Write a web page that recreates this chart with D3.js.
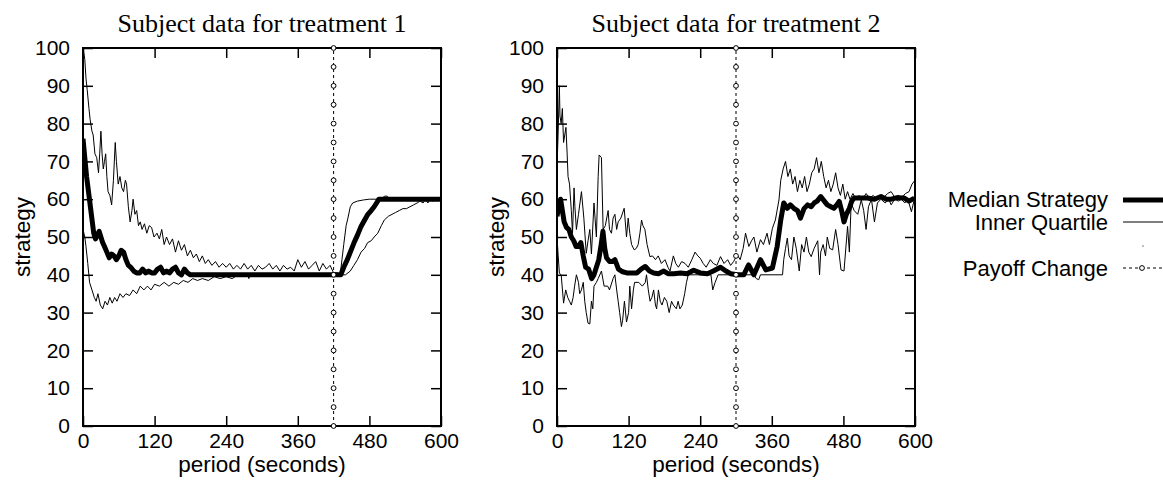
<!DOCTYPE html>
<meta charset="utf-8" />
<script src="https://d3js.org/d3.v7.min.js"></script>
<style>
  body { margin: 0; background: #fff; }
  text { font-family: "Liberation Sans", Arial, sans-serif; fill: #000; }
  .title { font-family: "Liberation Serif", "Times New Roman", serif; font-size: 26px; }
  .tick text { font-size: 21px; }
  .label { font-size: 22.5px; }
  .legend-text { font-size: 22px; }
</style>
<body>
<svg id="chart" width="1163" height="488"></svg>
<script>
// ---- data ----
const xTicks = [0, 120, 240, 360, 480, 600];
const yTicks = [0, 10, 20, 30, 40, 50, 60, 70, 80, 90, 100];
const payoffMarks = [0, 5, 10, 15, 20, 25, 30, 35, 40, 45, 50, 55, 60, 65, 70, 75, 80, 85, 90, 95, 100];
const titles = ["Subject data for treatment 1", "Subject data for treatment 2"];
const payoffTimes = [420, 300];

// treatment 1: [period, strategy]
const t1Median = [[0,76],[3,71],[6,66],[10,61],[14,56],[18,51],[21,49.5],[24,50.5],[27,51.5],[30,50],[33,48.5],[36,47.5],[40,46],[44,44.5],[48,45.5],[52,45],[56,44],[60,45],[64,46.5],[68,46],[72,44],[76,42.5],[80,42],[85,41],[90,40.5],[95,40.5],[100,41.5],[105,40.5],[110,41],[115,40.5],[120,40.5],[125,41.5],[130,42],[135,40.5],[140,41],[145,40.5],[150,41.5],[155,42],[160,40.5],[165,40],[170,41.5],[175,40.5],[180,40],[432,40],[437,42],[443,44],[448,46],[454,48.4],[460,50.5],[466,52.8],[472,54.5],[477,55.9],[483,57],[488,58],[492,59],[496,60],[600,60]];

const t1Upper = [[0,100],[3,97],[5,92],[7,89],[10,84],[12,81],[15,78],[17,77],[20,72],[23,71],[26,67],[28,72],[30,78],[32,72],[34,68],[36,70],[38,72],[40,66],[42,62],[45,61],[48,58.5],[51,65],[54,75],[56,70],[59,64],[62,66],[65,63],[68,62],[71,65],[73,64],[76,58],[79,54],[82,57],[84,60],[87,56],[90,57],[93,53],[96,54],[99,52],[103,53.5],[107,51],[111,53],[115,52.5],[119,50],[124,51],[128,49.5],[132,52],[136,48],[140,50],[145,48],[150,49.5],[155,46],[160,49],[165,46.5],[170,48],[175,45],[180,46.5],[185,44.5],[190,45.5],[195,43.5],[200,45],[205,43],[210,44],[216,42.5],[222,43.5],[228,42],[234,43],[240,42],[246,43],[252,41.5],[258,42.5],[264,41.5],[270,43],[276,41.5],[282,42.5],[288,41],[294,42.5],[300,41.5],[306,42],[312,43],[318,41.5],[324,42.5],[330,41],[336,42.5],[342,41.5],[348,42],[354,41],[360,44],[366,42],[372,43.5],[378,41.5],[384,42.5],[390,43.5],[396,41],[402,43],[408,41.5],[414,42.5],[420,40.5],[426,40.5],[431,40],[434,44],[437,48],[441,53],[444,55],[448,58],[452,59],[460,59.5],[470,59.8],[480,60],[500,60],[505,60.8],[510,60.8],[515,60],[600,60]];

const t1Lower = [[0,52],[3,50],[5,47.5],[8,43],[11,38],[15,36],[19,34],[22,33],[25,35],[29,32],[33,31],[37,33],[41,32],[45,34],[49,32.5],[53,34],[57,33],[62,35],[67,34],[72,35],[78,34.5],[84,36],[90,35],[96,37],[102,36],[108,37],[114,36],[120,37.5],[128,37],[136,38],[144,37],[152,38],[160,37.5],[168,38.5],[176,38],[184,39],[192,38.5],[200,39],[210,38.5],[220,39.5],[230,39],[240,39.5],[250,39],[260,40],[270,39.5],[276,40],[278,39],[280,40],[440,40],[448,41],[454,42.5],[460,44],[466,46],[472,47],[477,48.5],[483,49],[488,50],[494,51],[500,53],[505,54.5],[512,55.5],[518,56],[524,56.5],[530,57],[536,57.5],[542,57.5],[548,58],[554,58.5],[560,59],[565,59.5],[570,59],[574,60],[578,59],[582,60],[586,59.5],[590,60],[600,60]];

// treatment 2
const t2Median = [[0,55.5],[3,58],[6,60],[9,57],[12,54],[16,52.5],[20,52],[24,50],[28,49],[32,47.5],[36,47.5],[40,48.5],[44,45],[48,42],[53,41.5],[58,39],[62,40],[66,42],[70,44],[74,48],[77,51.5],[80,47],[83,44.5],[88,43.5],[93,43.5],[97,44],[103,41.5],[110,40.8],[117,40.5],[125,40.5],[134,40.5],[141,41.5],[148,42.2],[155,41],[162,40.5],[170,40.3],[179,41],[186,40.3],[196,40.3],[207,40.5],[218,40.3],[229,41.2],[240,40.5],[252,40.3],[262,41],[274,42],[283,41],[291,40.3],[302,40],[313,40],[321,42.6],[330,40],[341,44],[350,41.3],[361,41.8],[369,47.5],[375,54.5],[380,59],[386,57.6],[391,58.5],[397,57.6],[403,57],[408,55],[414,57.5],[420,58.5],[426,58],[431,59],[436,59.5],[442,60.7],[448,59.5],[453,58.5],[459,58],[464,57.6],[469,58.5],[473,59.4],[477,57],[481,54],[485,56],[490,57.6],[494,59.5],[498,60.3],[510,60.3],[520,60.3],[532,60],[543,60.7],[552,60],[560,60],[570,60.4],[582,60.3],[590,59.5],[599,60.3]];

const t2Upper = [[0,68],[2,78],[4,90],[5,82],[7,80],[9,84],[11,75],[13,77],[15,79],[17,72],[18.5,66],[21,64],[24,57],[26,51],[28.6,63],[30,58],[32.5,52],[36,56],[41,62],[45,55],[49,45.7],[52,49],[55,52],[57.7,45.5],[62,59],[66,50],[69,66],[70.6,71.7],[74.5,71],[77.3,52],[81,53],[85.7,57],[88,52],[91.3,51],[94,55],[97,56],[100,52],[102.5,54],[107,55],[112.6,57.6],[116.5,50],[119.3,55],[122,51],[125,48],[129.4,46.6],[133,47],[136,48],[139,51],[141.7,54.5],[144,53],[147.3,52],[151,48],[155.7,44.8],[160,45],[165,44],[169.7,45],[175,43],[181,44],[186,42],[189.4,41],[195,45],[199,43],[203.4,42],[209,43.5],[214.6,43],[220,42],[226,44],[231.4,46],[236,45],[240,44.4],[245,43],[250,42],[257,44],[262,43],[268,42.5],[274,44.8],[280,43],[286,44],[291,42.5],[296,43.5],[302,45.3],[307,44],[312,47],[316,51],[321.5,47.5],[326,49],[330,50],[335,46],[341,49.3],[346,48],[352,51],[356,48],[361,52.3],[366,54.5],[372,59.8],[375,65],[379,68],[383,70],[387,66],[391,68],[395,64],[399,66],[403,62],[407,65],[411,63],[415,66],[419,62],[423,64],[427,67],[431,68],[435,71],[439,67],[443,70],[447,66],[451,63],[455,65],[459,62],[463,64],[467,67],[471,63],[475,61],[479,64],[483,60],[487,62],[491,60],[496,61.5],[501,60],[506,61],[512,60],[518,61.5],[524,60.3],[530,61],[536,60],[542,61],[548,60.5],[554,61.5],[560,62],[566,60.5],[572,61],[578,60.5],[584,61.5],[590,62],[595,64],[600,65]];

const t2Lower = [[0,50],[2,45],[4,40.4],[7,40],[11,32.5],[14.6,36],[18,34],[21,33],[24,32],[27,34],[29.5,37],[32.5,40],[36,38],[38,35],[41,36],[44,38],[46.5,33],[49,30],[52,27.2],[55,27],[57.7,33],[60,31],[62,37],[66,38],[69,39],[74.5,41],[79,37],[85,37],[88,36],[94,39],[97,40],[100,36],[102.5,33],[105,30],[108,26.3],[110,28],[113,33],[116.5,27.5],[120,30],[122,37],[125,31],[128,36],[130,38],[137,38],[143,37],[148,38],[150,40],[153,36],[156,33],[159,34],[162,36],[165,32],[167,31],[170,36],[173,33],[176,32],[180,34],[184,33],[188,30],[192,33],[195,32],[200,31],[203,33],[206,31],[210,32],[214,35],[217,38],[220,40],[258,40],[261,36],[265,38],[270,40],[330,40],[334,39],[338,38.7],[341,40],[378,40],[380,44],[383,47],[386,49.7],[389,45],[393,44],[397,50],[401,47],[406,41],[410,48],[414,46],[418,50],[422,46],[426,44.8],[431,47],[437,49],[440,40],[442,46],[446,48],[450,45],[453,50],[457,47],[462,46.6],[467,52],[471,48],[476,41.3],[481,41],[487,52.8],[490,46],[493,59],[498,57],[504,56],[510,59.8],[514,57],[518,52],[522,58],[527,60],[532,54],[537,59],[543,60],[550,59],[556,60],[560,58.5],[566,60],[572,59.5],[577,60],[583,59],[588,60],[594,56.7],[599,60]];

// ---- layout ----
const svg = d3.select("#chart");
const plotTop = 48, plotBottom = 426, plotW = 358;
const panelLeft = [83, 557];
const series = [
  { median: t1Median, upper: t1Upper, lower: t1Lower },
  { median: t2Median, upper: t2Upper, lower: t2Lower }
];

const y = d3.scaleLinear().domain([0, 100]).range([plotBottom, plotTop]);

panelLeft.forEach(function (left, i) {
  const x = d3.scaleLinear().domain([0, 600]).range([left, left + plotW]);
  const g = svg.append("g");

  g.append("clipPath").attr("id", "clip" + i)
    .append("rect")
    .attr("x", left).attr("y", plotTop)
    .attr("width", plotW).attr("height", plotBottom - plotTop);

  // axes (ticks inside, mirrored)
  const styleAxis = function (sel) {
    sel.select(".domain").remove();
    sel.selectAll(".tick line").attr("stroke", "#000").attr("stroke-width", 1.5);
  };
  g.append("g").attr("transform", "translate(0," + plotBottom + ")")
    .call(d3.axisBottom(x).tickValues(xTicks).tickSizeInner(-10).tickSizeOuter(0).tickPadding(7))
    .call(styleAxis);
  g.append("g").attr("transform", "translate(0," + plotTop + ")")
    .call(d3.axisTop(x).tickValues(xTicks).tickSizeInner(-10).tickSizeOuter(0).tickFormat(""))
    .call(styleAxis);
  g.append("g").attr("transform", "translate(" + left + ",0)")
    .call(d3.axisLeft(y).tickValues(yTicks).tickSizeInner(-10).tickSizeOuter(0).tickPadding(13))
    .call(styleAxis);
  g.append("g").attr("transform", "translate(" + (left + plotW) + ",0)")
    .call(d3.axisRight(y).tickValues(yTicks).tickSizeInner(-10).tickSizeOuter(0).tickFormat(""))
    .call(styleAxis);
  g.selectAll(".tick text").attr("fill", "#000")
    .style("font-family", "'Liberation Sans', Arial, sans-serif");

  const line = d3.line().x(d => x(d[0])).y(d => y(d[1]));
  const data = g.append("g").attr("clip-path", "url(#clip" + i + ")");

  // payoff change
  data.append("line")
    .attr("x1", x(payoffTimes[i])).attr("x2", x(payoffTimes[i]))
    .attr("y1", y(0)).attr("y2", y(100))
    .attr("stroke", "#000").attr("stroke-width", 1)
    .attr("stroke-dasharray", "3,3");

  ["upper", "lower"].forEach(function (k) {
    data.append("path").datum(series[i][k])
      .attr("d", line).attr("fill", "none")
      .attr("stroke", "#000").attr("stroke-width", 1)
      .attr("stroke-linejoin", "round");
  });
  data.append("path").datum(series[i].median)
    .attr("d", line).attr("fill", "none")
    .attr("stroke", "#000").attr("stroke-width", 5)
    .attr("stroke-linejoin", "round");

  // frame
  g.append("rect")
    .attr("x", left).attr("y", plotTop)
    .attr("width", plotW).attr("height", plotBottom - plotTop)
    .attr("fill", "none").attr("stroke", "#000").attr("stroke-width", 2);

  g.selectAll("circle.payoff").data(payoffMarks).enter()
    .append("circle").attr("class", "payoff")
    .attr("cx", x(payoffTimes[i])).attr("cy", d => y(d))
    .attr("r", 2.4).attr("fill", "#fff")
    .attr("stroke", "#000").attr("stroke-width", 1);

  // texts
  g.append("text").attr("class", "title")
    .attr("x", left + plotW / 2).attr("y", 32)
    .attr("text-anchor", "middle").text(titles[i]);
  g.append("text").attr("class", "label")
    .attr("x", left + plotW / 2).attr("y", 472)
    .attr("text-anchor", "middle").text("period (seconds)");
  g.append("text").attr("class", "label")
    .attr("transform", "translate(" + (left - 53) + "," + ((plotTop + plotBottom) / 2) + ") rotate(-90)")
    .attr("text-anchor", "middle").text("strategy");
});

// ---- legend ----
const legend = svg.append("g");
const lx1 = 1123, lx2 = 1163, ltx = 1108;
const rows = [200, 222, 246, 268];

legend.append("text").attr("class", "legend-text").attr("x", ltx).attr("y", rows[0] + 7)
  .attr("text-anchor", "end").text("Median Strategy");
legend.append("line").attr("x1", lx1).attr("x2", lx2).attr("y1", rows[0]).attr("y2", rows[0])
  .attr("stroke", "#000").attr("stroke-width", 5);

legend.append("text").attr("class", "legend-text").attr("x", ltx).attr("y", rows[1] + 8)
  .attr("text-anchor", "end").text("Inner Quartile");
legend.append("line").attr("x1", lx1).attr("x2", lx2).attr("y1", rows[1]).attr("y2", rows[1])
  .attr("stroke", "#000").attr("stroke-width", 1);

legend.append("rect").attr("x", 1142.5).attr("y", rows[2] - 0.5)
  .attr("width", 1).attr("height", 1).attr("fill", "#000");

legend.append("text").attr("class", "legend-text").attr("x", ltx).attr("y", rows[3] + 8)
  .attr("text-anchor", "end").text("Payoff Change");
legend.append("line").attr("x1", lx1).attr("x2", lx2).attr("y1", rows[3]).attr("y2", rows[3])
  .attr("stroke", "#000").attr("stroke-width", 1).attr("stroke-dasharray", "3,3");
legend.append("circle").attr("cx", 1142).attr("cy", rows[3]).attr("r", 2.4)
  .attr("fill", "#fff").attr("stroke", "#000").attr("stroke-width", 1);
</script>
</body>
